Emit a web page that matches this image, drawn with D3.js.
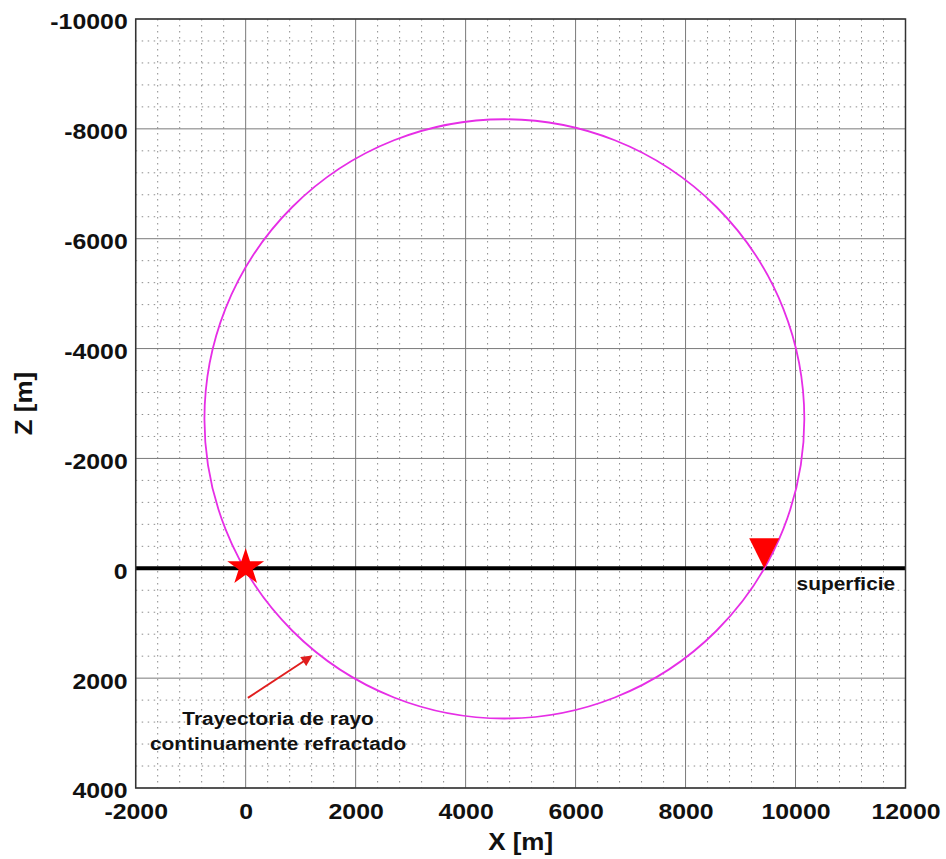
<!DOCTYPE html>
<html>
<head>
<meta charset="utf-8">
<script src="https://cdn.jsdelivr.net/npm/d3@7"></script>
<style>
  html, body { margin: 0; padding: 0; background: #fff; }
  svg { display: block; font-family: "Liberation Sans", Arial, sans-serif; }
</style>
</head>
<body>
<svg id="chart" width="946" height="859"></svg>
<script>
// ---- data ----
const xDomain = [-2000, 12000];
const zDomain = [-10000, 4000];
const xTicks = [-2000, 0, 2000, 4000, 6000, 8000, 10000, 12000];
const zTicks = [-10000, -8000, -6000, -4000, -2000, 0, 2000, 4000];
const minorStep = 400;
// continuously refracted ray: circular path (center x, center z, radius)
const rayCenter = [4705, -2720];
const rayRadius = 5455;
const sourcePoint = [0, 0];        // star
const receiverPoint = [9430, 0];   // inverted triangle (apex on surface)
const surfaceZ = 0;
const arrowFrom = [40, 2360];
const arrowTo = [1180, 1610];
const annotationLines = ["Trayectoria de rayo", "continuamente refractado"];
const surfaceLabel = "superficie";
const xLabel = "X [m]";
const zLabel = "Z [m]";

// ---- layout ----
const svg = d3.select("#chart");
const pL = 135.7, pR = 905.5, pT = 19, pB = 788;
const x = d3.scaleLinear().domain(xDomain).range([pL, pR]);
const y = d3.scaleLinear().domain(zDomain).range([pT, pB]);
const SX = 1.13; // horizontal text stretch of the reference
const fmt = d => String(d);

// defs
const defs = svg.append("defs");
defs.append("marker").attr("id", "arrowhead")
  .attr("viewBox", "0 0 10 10").attr("refX", 8).attr("refY", 5)
  .attr("markerWidth", 6).attr("markerHeight", 5.5).attr("orient", "auto")
  .attr("markerUnits", "strokeWidth")
  .append("path").attr("d", "M0,0 L10,5 L0,10 z").attr("fill", "#e01e1e");
defs.append("clipPath").attr("id", "plotclip").append("rect")
  .attr("x", pL).attr("y", pT).attr("width", pR - pL).attr("height", pB - pT);

// minor grid (dotted)
const xMinor = d3.range(xDomain[0], xDomain[1] + 1, minorStep).filter(v => !xTicks.includes(v));
const zMinor = d3.range(zDomain[0], zDomain[1] + 1, minorStep).filter(v => !zTicks.includes(v));
const grid = svg.append("g");
grid.selectAll("line.xm").data(xMinor).join("line").attr("class", "xm")
  .attr("x1", d => x(d)).attr("x2", d => x(d)).attr("y1", pT).attr("y2", pB)
  .attr("stroke", "#8c8c8c").attr("stroke-width", 1).attr("stroke-dasharray", "1.5,4.5");
grid.selectAll("line.zm").data(zMinor).join("line").attr("class", "zm")
  .attr("y1", d => y(d)).attr("y2", d => y(d)).attr("x1", pL).attr("x2", pR)
  .attr("stroke", "#8c8c8c").attr("stroke-width", 1).attr("stroke-dasharray", "1.5,4.5");

// major grid
grid.selectAll("line.xM").data(xTicks).join("line").attr("class", "xM")
  .attr("x1", d => x(d)).attr("x2", d => x(d)).attr("y1", pT).attr("y2", pB)
  .attr("stroke", "#7a7a7a").attr("stroke-width", 1);
grid.selectAll("line.zM").data(zTicks).join("line").attr("class", "zM")
  .attr("y1", d => y(d)).attr("y2", d => y(d)).attr("x1", pL).attr("x2", pR)
  .attr("stroke", "#7a7a7a").attr("stroke-width", 1);

// axes
const xAxis = svg.append("g").attr("transform", `translate(0,${pB})`)
  .call(d3.axisBottom(x).tickValues(xTicks).tickFormat(fmt).tickSize(0).tickPadding(0));
xAxis.select(".domain").remove();
xAxis.selectAll("text").attr("y", 31).attr("dy", 0)
  .attr("font-size", 22).attr("font-weight", "bold").attr("fill", "#111")
  .attr("transform", `scale(${SX},1)`);

const zAxis = svg.append("g").attr("transform", `translate(${pL},0)`)
  .call(d3.axisLeft(y).tickValues(zTicks).tickFormat(fmt).tickSize(0).tickPadding(0));
zAxis.select(".domain").remove();
zAxis.selectAll("text").attr("x", -8 / SX).attr("dy", "0.45em")
  .attr("font-size", 22).attr("font-weight", "bold").attr("fill", "#111")
  .attr("transform", `scale(${SX},1)`);

// plot contents
const plot = svg.append("g").attr("clip-path", "url(#plotclip)");

// surface line
plot.append("line")
  .attr("x1", x(xDomain[0])).attr("x2", x(xDomain[1]))
  .attr("y1", y(surfaceZ)).attr("y2", y(surfaceZ))
  .attr("stroke", "#000").attr("stroke-width", 4);

// ray path (circle)
plot.append("ellipse")
  .attr("cx", x(rayCenter[0])).attr("cy", y(rayCenter[1]))
  .attr("rx", x(rayCenter[0] + rayRadius) - x(rayCenter[0]))
  .attr("ry", y(rayCenter[1] + rayRadius) - y(rayCenter[1]))
  .attr("fill", "none").attr("stroke", "#e62ee6").attr("stroke-width", 1.8);

// source star
const star = d3.symbol().type(d3.symbolStar).size(420);
plot.append("path").attr("d", star())
  .attr("transform", `translate(${x(sourcePoint[0])},${y(sourcePoint[1]) - 1})`)
  .attr("fill", "#ff0000");

// receiver inverted triangle, apex at surface
const triW = 30, triH = 30;
const rx0 = x(receiverPoint[0]), ry0 = y(receiverPoint[1]);
plot.append("path")
  .attr("d", `M${rx0},${ry0} L${rx0 - triW / 2},${ry0 - triH} L${rx0 + triW / 2},${ry0 - triH} Z`)
  .attr("fill", "#ff0000");

// annotation arrow
svg.append("line")
  .attr("x1", x(arrowFrom[0])).attr("y1", y(arrowFrom[1]))
  .attr("x2", x(arrowTo[0])).attr("y2", y(arrowTo[1]))
  .attr("stroke", "#e01e1e").attr("stroke-width", 2)
  .attr("marker-end", "url(#arrowhead)");

// annotation text
const annX = x(590), annY = y(2853);
annotationLines.forEach((t, i) => {
  svg.append("text")
    .attr("transform", `translate(${annX},${annY + i * 25}) scale(${SX},1)`)
    .attr("text-anchor", "middle").attr("font-size", 18.5).attr("font-weight", "bold")
    .attr("fill", "#111").text(t);
});

// surface label
svg.append("text")
  .attr("transform", `translate(${x(10000) + 1},${y(395)}) scale(${SX},1)`)
  .attr("font-size", 18.5).attr("font-weight", "bold").attr("fill", "#111").text(surfaceLabel);

// axes box
svg.append("rect").attr("x", pL).attr("y", pT).attr("width", pR - pL).attr("height", pB - pT)
  .attr("fill", "none").attr("stroke", "#333").attr("stroke-width", 1.5);

// axis labels
svg.append("text")
  .attr("transform", `translate(${(pL + pR) / 2},850) scale(${SX},1)`)
  .attr("text-anchor", "middle").attr("font-size", 23).attr("font-weight", "bold").attr("fill", "#111")
  .text(xLabel);
svg.append("text")
  .attr("transform", `translate(32,${(pT + pB) / 2}) rotate(-90) scale(${SX},1)`)
  .attr("text-anchor", "middle").attr("font-size", 23).attr("font-weight", "bold").attr("fill", "#111")
  .text(zLabel);
</script>
</body>
</html>
